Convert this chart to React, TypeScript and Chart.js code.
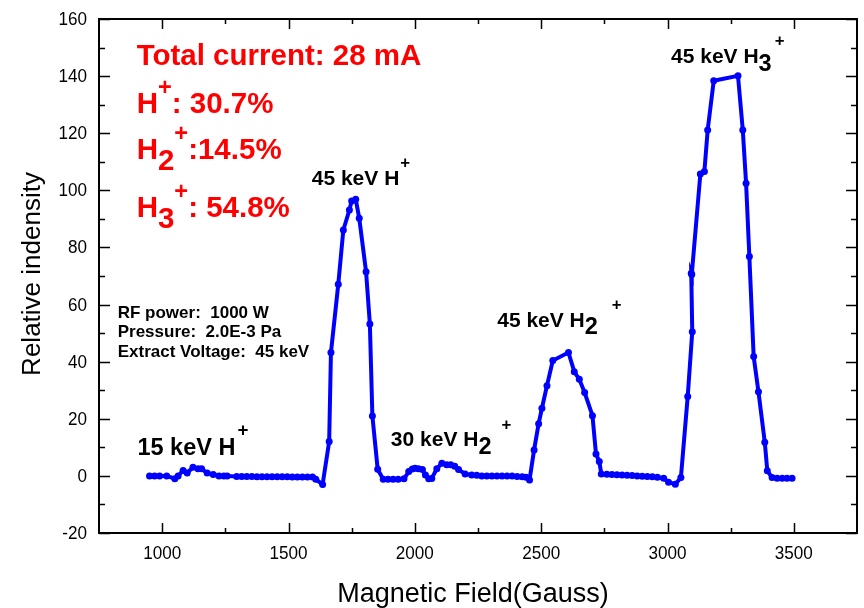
import { useEffect, useRef } from "react";
import { Chart, registerables } from "chart.js";

Chart.register(...registerables);

// Beam current scan versus analysing-magnet field
const fieldGauss = [
  950, 970, 990, 1018, 1050, 1063, 1083, 1099, 1122, 1142, 1156, 1178, 1202, 1225, 1244, 1257,
  1295, 1315, 1335, 1355, 1375, 1395, 1415, 1435, 1455, 1475, 1495, 1515, 1535, 1555, 1575, 1595, 1608, 1635,
  1661, 1668, 1697, 1717, 1741, 1750, 1766, 1780, 1807, 1822, 1832, 1853,
  1875, 1894, 1914, 1934, 1957, 1976, 1990, 2001, 2014, 2030, 2042, 2055, 2067, 2087, 2107, 2126, 2142, 2158, 2173, 2199,
  2225, 2245, 2265, 2285, 2305, 2325, 2345, 2365, 2385, 2405, 2425, 2440, 2454,
  2472, 2490, 2503, 2523, 2546, 2608, 2631, 2651, 2672, 2703, 2717, 2730, 2738,
  2760, 2780, 2800, 2820, 2840, 2860, 2880, 2900, 2920, 2940, 2960, 2985, 3004, 3031, 3053,
  3080, 3098, 3094, 3096, 3130, 3146, 3159, 3183, 3279, 3298, 3311, 3324, 3341, 3360, 3385, 3395,
  3414, 3434, 3454, 3473, 3493,
];
const intensity = [
  0, 0, 0, 0, -1, 0, 1.9, 1, 3, 2.5, 2.5, 1, 0.5, 0, 0, 0,
  -0.2, -0.2, -0.2, -0.2, -0.3, -0.3, -0.3, -0.3, -0.3, -0.3, -0.3, -0.4, -0.4, -0.4, -0.4, -0.4, -1.2, -3.0,
  12, 43.2, 67.1, 86.1, 93.1, 96.3, 96.9, 90.2, 71.5, 53.2, 21, 2.3,
  -1.2, -1.2, -1.2, -1.2, -1.0, 1.5, 2.4, 2.7, 2.5, 2.2, 0.3, -1.0, -0.9, 2.5, 4.4, 3.9, 3.9, 3.4, 2.2, 0.7,
  0.3, 0.2, 0, 0, 0, 0, 0, 0, 0, -0.2, -0.3, -0.5, -1.4,
  9.1, 18.3, 23.7, 31.6, 40.4, 43.2, 36.5, 33.8, 29.2, 21.1, 7.7, 5.0, 0.7,
  0.6, 0.5, 0.4, 0.3, 0.2, 0.1, 0, -0.1, -0.2, -0.3, -0.5, -0.8, -2.2, -2.9, -0.6,
  27.8, 50.5, 71, 70.5, 105.7, 106.6, 121.1, 138.4, 140.1, 121.1, 102.5, 76.8, 41.8, 29.5, 11.8, 1.8,
  -0.6, -0.8, -0.8, -0.8, -0.8,
];

const xRange = [750, 3750];
const yRange = [-20, 160];
const xMajorTicks = [1000, 1500, 2000, 2500, 3000, 3500];
const xMinorTicks = [1250, 1750, 2250, 2750, 3250];
const yMajorTicks = [-20, 0, 20, 40, 60, 80, 100, 120, 140, 160];
const yMinorTicks = [-10, 10, 30, 50, 70, 90, 110, 130, 150];

const xTitle = "Magnetic Field(Gauss)";
const yTitle = "Relative indensity";

// Rich text runs: "" normal, "sup" superscript, "sub" subscript; optional extra gap before the run
type Run = [string, "" | "sup" | "sub", number?];

const peakLabels: { runs: Run[]; at: [number, number]; size: number }[] = [
  { runs: [["15 keV H", ""], ["+", "sup", 2]], at: [902, 7.4], size: 23.5 },
  { runs: [["45 keV H", ""], ["+", "sup", 1]], at: [1592, 101.9], size: 21 },
  { runs: [["30 keV H", ""], ["2", "sub"], ["+", "sup", 10]], at: [1905, 10.3], size: 21 },
  { runs: [["45 keV H", ""], ["2", "sub"], ["+", "sup", 14]], at: [2326, 52.2], size: 21 },
  { runs: [["45 keV H", ""], ["3", "sub"], ["+", "sup", 3]], at: [3014, 144.6], size: 21 },
];

const summaryLines: { runs: Run[]; at: [number, number] }[] = [
  { runs: [["Total current: 28 mA", ""]], at: [899, 144] },
  { runs: [["H", ""], ["+", "sup"], [": 30.7%", ""]], at: [899, 127.1] },
  { runs: [["H", ""], ["2", "sub"], ["+", "sup"], [":14.5%", ""]], at: [899, 110.8] },
  { runs: [["H", ""], ["3", "sub"], ["+", "sup"], [": 54.8%", ""]], at: [899, 90.6] },
];

const conditionLines = ["RF power:  1000 W", "Pressure:  2.0E-3 Pa", "Extract Voltage:  45 keV"];
const conditionAnchors: [number, number][] = [
  [824, 55.2],
  [824, 48.6],
  [824, 41.8],
];

const FONT = '"Liberation Sans", Arial, sans-serif';

function drawRuns(
  ctx: CanvasRenderingContext2D,
  runs: Run[],
  x: number,
  y: number,
  size: number,
  color: string,
  supRaise: number,
  subScale: number
) {
  let cx = x;
  ctx.fillStyle = color;
  ctx.textAlign = "left";
  ctx.textBaseline = "alphabetic";
  for (const [t, kind, gap] of runs) {
    let fs = size;
    let dy = 0;
    if (kind === "sup") {
      fs = size * 0.8;
      dy = -size * supRaise;
    } else if (kind === "sub") {
      fs = size * subScale;
      dy = size * 0.36;
    }
    cx += gap || 0;
    ctx.font = `bold ${fs}px ${FONT}`;
    ctx.fillText(t, cx, y + dy);
    cx += ctx.measureText(t).width;
  }
}

function squishText(
  ctx: CanvasRenderingContext2D,
  text: string,
  x: number,
  y: number,
  sx: number,
  align: CanvasTextAlign
) {
  ctx.save();
  ctx.translate(x, y);
  ctx.scale(sx, 1);
  ctx.textAlign = align;
  ctx.fillText(text, 0, 0);
  ctx.restore();
}

const framePlugin = {
  id: "frameAndText",
  afterDatasetsDraw(chart: any) {
    const { ctx, chartArea: a, scales } = chart;
    const xs = scales.x;
    const ys = scales.y;
    ctx.save();
    ctx.strokeStyle = "#000";
    ctx.lineWidth = 2;
    ctx.strokeRect(a.left, a.top, a.right - a.left, a.bottom - a.top);

    ctx.lineWidth = 1.5;
    ctx.beginPath();
    const xTick = (v: number, len: number) => {
      const px = Math.round(xs.getPixelForValue(v)) + 0.5;
      ctx.moveTo(px, a.bottom);
      ctx.lineTo(px, a.bottom - len);
      ctx.moveTo(px, a.top);
      ctx.lineTo(px, a.top + len);
    };
    const yTick = (v: number, len: number) => {
      const py = Math.round(ys.getPixelForValue(v)) + 0.5;
      ctx.moveTo(a.left, py);
      ctx.lineTo(a.left + len, py);
      ctx.moveTo(a.right, py);
      ctx.lineTo(a.right - len, py);
    };
    xMajorTicks.forEach((v) => xTick(v, 10));
    xMinorTicks.forEach((v) => xTick(v, 5));
    yMajorTicks.forEach((v) => yTick(v, 11));
    yMinorTicks.forEach((v) => yTick(v, 6));
    ctx.stroke();

    // tick labels
    ctx.fillStyle = "#000";
    ctx.textBaseline = "alphabetic";
    ctx.font = `18px ${FONT}`;
    xMajorTicks.forEach((v) => {
      squishText(ctx, String(v), xs.getPixelForValue(v), a.bottom + 26, 0.95, "center");
    });
    yMajorTicks.forEach((v) => {
      squishText(ctx, String(v), a.left - 12, ys.getPixelForValue(v) + 6, 0.95, "right");
    });

    // axis titles
    ctx.font = `27px ${FONT}`;
    squishText(ctx, xTitle, (a.left + a.right) / 2 - 5, a.bottom + 69, 1, "center");
    ctx.save();
    ctx.translate(40, (a.top + a.bottom) / 2 - 2);
    ctx.rotate(-Math.PI / 2);
    ctx.textAlign = "center";
    ctx.font = `26px ${FONT}`;
    ctx.fillText(yTitle, 0, 0);
    ctx.restore();

    // annotations
    summaryLines.forEach((l) =>
      drawRuns(ctx, l.runs, xs.getPixelForValue(l.at[0]), ys.getPixelForValue(l.at[1]), 29.5, "#ff0000", 0.62, 1)
    );
    peakLabels.forEach((l) =>
      drawRuns(ctx, l.runs, xs.getPixelForValue(l.at[0]), ys.getPixelForValue(l.at[1]), l.size, "#000", 0.8, 1.12)
    );
    ctx.font = `bold 17px ${FONT}`;
    ctx.fillStyle = "#000";
    ctx.textAlign = "left";
    conditionLines.forEach((t, i) => {
      ctx.fillText(t, xs.getPixelForValue(conditionAnchors[i][0]), ys.getPixelForValue(conditionAnchors[i][1]));
    });
    ctx.restore();
  },
};

export default function App() {
  const canvasRef = useRef<HTMLCanvasElement | null>(null);

  useEffect(() => {
    const canvas = canvasRef.current;
    if (!canvas) return;
    const points = fieldGauss.map((g, i) => ({ x: g, y: intensity[i] }));
    const chart = new Chart(canvas, {
      type: "line",
      data: {
        datasets: [
          {
            data: points,
            borderColor: "#0000ff",
            backgroundColor: "#0000ff",
            borderWidth: 4,
            pointRadius: 3.5,
            pointBorderWidth: 0,
            pointBackgroundColor: "#0000ff",
            tension: 0,
            fill: false,
          },
        ],
      },
      options: {
        responsive: false,
        animation: false,
        events: [],
        layout: { padding: { left: 99, top: 19, right: 7, bottom: 75 } },
        plugins: { legend: { display: false }, tooltip: { enabled: false } },
        scales: {
          x: { type: "linear", min: xRange[0], max: xRange[1], display: false },
          y: { type: "linear", min: yRange[0], max: yRange[1], display: false },
        },
      },
      plugins: [framePlugin],
    });
    return () => chart.destroy();
  }, []);

  return (
    <div style={{ position: "absolute", left: 0, top: 0, width: 864, height: 608, background: "#fff" }}>
      <canvas ref={canvasRef} width={864} height={608} style={{ display: "block" }} />
    </div>
  );
}
